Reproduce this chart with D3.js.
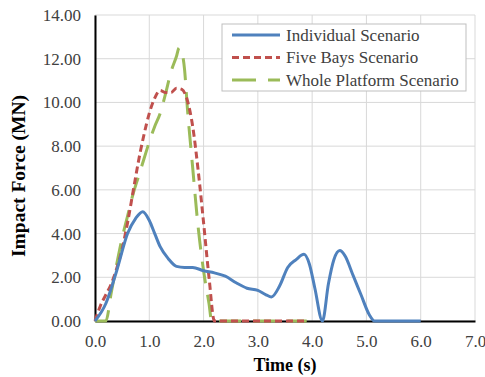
<!DOCTYPE html>
<html>
<head>
<meta charset="utf-8">
<script src="https://cdn.jsdelivr.net/npm/d3@7"></script>
</head>
<body style="margin:0; background:#fff">
<div id="draw"></div>
<script>
// Individual Scenario
var individualT = [0, 0.2, 0.4, 0.6, 0.75, 0.88, 1.0, 1.1, 1.2, 1.35, 1.5, 1.65, 1.8, 2.0, 2.2, 2.4, 2.6, 2.8, 3.0, 3.15, 3.25, 3.4, 3.55, 3.7, 3.85, 3.95, 4.05, 4.19, 4.3, 4.4, 4.51, 4.6, 4.76, 4.9, 5.05, 5.15, 6.0];
var individualF = [0, 0.8, 2.3, 4.0, 4.7, 5.0, 4.6, 4.0, 3.4, 2.85, 2.5, 2.45, 2.45, 2.3, 2.2, 2.05, 1.75, 1.5, 1.4, 1.2, 1.1, 1.6, 2.45, 2.8, 3.05, 2.6, 1.5, 0, 1.7, 2.8, 3.22, 3.0, 2.05, 1.2, 0.3, 0, 0];

// Five Bays Scenario
var fiveBaysT = [0, 0.1, 0.2, 0.3, 0.4, 0.5, 0.6, 0.7, 0.8, 0.9, 1.0, 1.1, 1.2, 1.3, 1.4, 1.5, 1.6, 1.7, 1.8, 1.9, 2.0, 2.1, 2.2, 3.0, 3.9];
var fiveBaysF = [0, 0.7, 1.2, 1.7, 2.4, 3.3, 4.5, 5.9, 7.3, 8.5, 9.5, 10.2, 10.55, 10.45, 10.45, 10.65, 10.6, 10.1, 8.9, 6.9, 4.5, 2.0, 0, 0, 0];

// Whole Platform Scenario
var wholeT = [0, 0.2, 0.3, 0.4, 0.5, 0.6, 0.7, 0.8, 0.9, 1.0, 1.1, 1.2, 1.3, 1.4, 1.5, 1.55, 1.6, 1.65, 1.7, 1.8, 1.9, 2.0, 2.1, 2.15, 3.0, 3.9];
var wholeF = [0, 0, 1.3, 2.6, 3.8, 4.8, 5.8, 6.6, 7.4, 8.2, 8.9, 9.5, 10.4, 11.4, 12.1, 12.5, 12.3, 11.5, 9.8, 7.0, 4.3, 2.3, 0.8, 0, 0, 0];

var xTicks = [0, 1, 2, 3, 4, 5, 6, 7];
var yTicks = [0, 2, 4, 6, 8, 10, 12, 14];
var seriesNames = ["Individual Scenario", "Five Bays Scenario", "Whole Platform Scenario"];

var width = 485, height = 377;
var margin = { left: 95, right: 10, top: 15, bottom: 56 };
var serif = 'Liberation Serif';

var svg = d3.select('#draw').append('svg')
    .attr('width', width).attr('height', height)
    .attr('font-family', serif);

var x = d3.scaleLinear().domain([0, 7]).range([margin.left, width - margin.right]);
var y = d3.scaleLinear().domain([0, 14]).range([height - margin.bottom, margin.top]);

// gridlines
svg.append('g').selectAll('line.h').data(yTicks).enter().append('line')
    .attr('x1', x(0)).attr('x2', x(7))
    .attr('y1', function(d){ return y(d); }).attr('y2', function(d){ return y(d); })
    .attr('stroke', '#d9d9d9').attr('stroke-width', 1);
svg.append('g').selectAll('line.v').data(xTicks).enter().append('line')
    .attr('y1', y(0)).attr('y2', y(14))
    .attr('x1', function(d){ return x(d); }).attr('x2', function(d){ return x(d); })
    .attr('stroke', '#d9d9d9').attr('stroke-width', 1);

// axes
var xAxis = svg.append('g').attr('transform', 'translate(0,' + y(0) + ')')
    .call(d3.axisBottom(x).tickValues(xTicks).tickFormat(d3.format('.1f')).tickSize(0).tickPadding(14));
var yAxis = svg.append('g').attr('transform', 'translate(' + x(0) + ',0)')
    .call(d3.axisLeft(y).tickValues(yTicks).tickFormat(d3.format('.2f')).tickSize(0).tickPadding(14));
[xAxis, yAxis].forEach(function(a){
    a.attr('font-family', serif).attr('font-size', 17);
    a.select('.domain').attr('stroke', '#000').attr('stroke-width', 2);
    a.selectAll('text').attr('font-family', serif).attr('font-size', 17).attr('fill', '#404040');
});

// lines
var line = d3.line()
    .x(function(d){ return x(d[0]); })
    .y(function(d){ return y(d[1]); })
    .curve(d3.curveMonotoneX);

var series = [
    { name: seriesNames[0], pts: d3.zip(individualT, individualF), color: '#4f81bd', dash: null },
    { name: seriesNames[1], pts: d3.zip(fiveBaysT, fiveBaysF), color: '#c0504d', dash: '7,4' },
    { name: seriesNames[2], pts: d3.zip(wholeT, wholeF), color: '#9bbb59', dash: '22,12' }
];

svg.selectAll('path.series').data(series.slice().reverse()).enter().append('path')
    .attr('d', function(d){ return line(d.pts); })
    .attr('fill', 'none')
    .attr('stroke', function(d){ return d.color; })
    .attr('stroke-width', 3)
    .attr('stroke-dasharray', function(d){ return d.dash; });

// axis titles
svg.append('text').attr('x', 285).attr('y', 371).attr('text-anchor', 'middle')
    .attr('font-family', serif).attr('font-size', 18).attr('font-weight', 'bold').text('Time (s)');
svg.append('text').attr('transform', 'translate(25,176) rotate(-90)')
    .attr('text-anchor', 'middle').attr('font-family', serif).attr('font-size', 19.5).attr('font-weight', 'bold')
    .text('Impact Force (MN)');

// legend
var legend = svg.append('g');
legend.append('rect').attr('x', 222).attr('y', 24).attr('width', 244).attr('height', 67)
    .attr('fill', '#fff').attr('stroke', '#bfbfbf').attr('stroke-width', 1);
var rows = legend.selectAll('g.row').data(series).enter().append('g')
    .attr('transform', function(d, i){ return 'translate(0,' + (35 + i * 22.5) + ')'; });
rows.append('line').attr('x1', 232).attr('x2', 280).attr('y1', 0).attr('y2', 0)
    .attr('stroke', function(d){ return d.color; }).attr('stroke-width', 3)
    .attr('stroke-dasharray', function(d){ return d.dash === '22,12' ? '24,12' : d.dash; });
rows.append('text').attr('x', 286).attr('y', 5.5).attr('font-family', serif).attr('font-size', 17).attr('fill', '#404040')
    .text(function(d){ return d.name; });
</script>
</body>
</html>
